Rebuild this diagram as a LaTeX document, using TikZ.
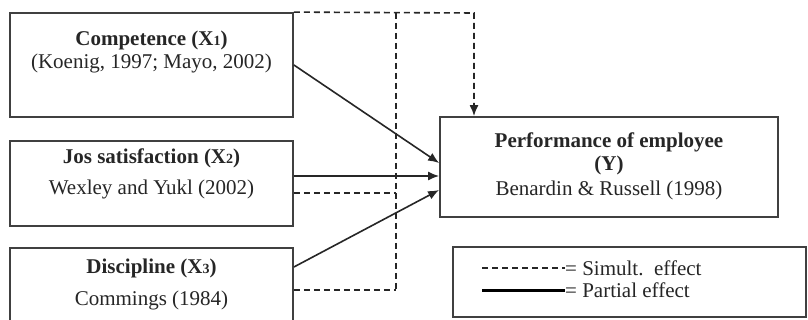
\documentclass[tikz,border=0pt]{standalone}
\usepackage{fontspec}
\setmainfont{Liberation Serif}
\usetikzlibrary{arrows.meta}
% small index digit that sits on the baseline
\newcommand{\idx}[1]{{\fontsize{14}{14}\selectfont #1}}
\begin{document}
\begin{tikzpicture}[x=1pt,y=-1pt,
  box/.style={draw=black!75, line width=1.8pt, minimum width=283pt, inner sep=0pt},
  txt/.style={font=\fontsize{21}{25}\selectfont, text=black!85, inner sep=0pt},
  ttl/.style={font=\fontsize{21}{25}\selectfont\bfseries, text=black!85, inner sep=0pt},
  partial/.style={draw=black!85, line width=1.6pt, -{Latex[length=11pt,width=9pt]}},
  simult/.style={draw=black!85, line width=1.6pt, dash pattern=on 6pt off 4pt},
]
\useasboundingbox (0,0) rectangle (808,320);
\clip (0,0) rectangle (808,320);
\fill[white] (0,0) rectangle (808,320);

% independent variables
\node[box, minimum height=104pt] (c1) at (151.5,65) {};
\node[box, minimum height=85pt] (c2) at (151.5,183.5) {};
\node[box, minimum height=80pt] (c3) at (151.5,288) {};

\node[ttl] (c1a) at (151.5,40) {Competence (X\idx{1})};
\node[txt] (c1b) at (151.5,63) {(Koenig, 1997; Mayo, 2002)};
\node[ttl] (c2a) at (151.5,158) {Jos satisfaction (X\idx{2})};
\node[txt] (c2b) at (151.5,189) {Wexley and Yukl (2002)};
\node[ttl] (c3a) at (151.5,268) {Discipline (X\idx{3})};
\node[txt] (c3b) at (151.5,300) {Commings (1984)};

% dependent variable
\node[box, minimum width=338pt, minimum height=100pt] (perf) at (609,167) {};
\node[ttl] (pa) at (609,142) {Performance of employee};
\node[ttl] (pb) at (609,165) {(Y)};
\node[txt] (pc) at (609,190) {Benardin \& Russell (1998)};

% partial effects
\draw[partial] (c1.east) -- ([yshift=4pt]perf.west);
\draw[partial] ([yshift=7.5pt]c2.east) -- ([yshift=-9pt]perf.west);
\draw[partial] ([yshift=21pt]c3.east) -- ([yshift=-23pt]perf.west);

% simultaneous effect
\coordinate (tr) at (474,13);
\coordinate (vt) at (396,13);
\coordinate (vb) at (396,290);
\coordinate (d2) at ([yshift=-9.5pt]c2.east);
\coordinate (d3) at ([yshift=-2pt]c3.east);
\draw[simult, -{Latex[length=11pt,width=9pt]}] (c1.north east) -- (tr) -- (perf.north -| tr);
\draw[simult] (vt) -- (vb);
\draw[simult] (d2) -- (d2 -| vt);
\draw[simult] (d3) -- (d3 -| vt);

% legend
\node[box, minimum width=353pt, minimum height=70pt] (leg) at (629.5,282) {};
\coordinate (ls1) at (482,268);
\coordinate (ls2) at (565,268);
\coordinate (lp1) at (482,290);
\coordinate (lp2) at (565,290);
\draw[simult] (ls1) -- (ls2);
\draw[draw=black, line width=3pt] (lp1) -- (lp2);
\node[txt, anchor=west] (lst) at (ls2) {= Simult.\ \ effect};
\node[txt, anchor=west] (lpt) at (lp2) {= Partial effect};
\end{tikzpicture}
\end{document}
